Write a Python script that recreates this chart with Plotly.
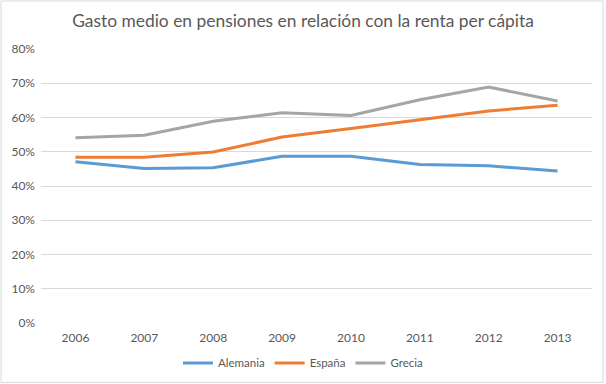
import plotly.graph_objects as go

years = ["2006", "2007", "2008", "2009", "2010", "2011", "2012", "2013"]
alemania = [47.1, 45.1, 45.3, 48.7, 48.7, 46.3, 45.9, 44.4]
espana = [48.4, 48.4, 49.9, 54.3, 56.8, 59.4, 61.9, 63.6]
grecia = [54.1, 54.8, 58.9, 61.4, 60.6, 65.2, 68.9, 64.8]
y_ticks = [0, 10, 20, 30, 40, 50, 60, 70, 80]
y_tick_labels = ["0%", "10%", "20%", "30%", "40%", "50%", "60%", "70%", "80%"]

series = [("Alemania", alemania, "#5B9BD5"),
          ("España", espana, "#ED7D31"),
          ("Grecia", grecia, "#A5A5A5")]

fig = go.Figure()
for name, vals, color in series:
    fig.add_trace(go.Scatter(x=years, y=vals, name=name, mode="lines",
                             line=dict(color=color, width=3)))

W, H = 606, 384
L, R, T, B = 40.5, 13.5, 48.6, 61
pw, ph = W - L - R, H - T - B

fig.update_layout(
    width=W, height=H,
    margin=dict(l=L, r=R, t=T, b=B, autoexpand=False),
    paper_bgcolor="white", plot_bgcolor="white",
    font=dict(family="Lato, Carlito, Calibri, sans-serif", color="#595959", size=12),
    title=dict(text="Gasto medio en pensiones en relación con la renta per cápita",
               x=0.5, xanchor="center", xref="container",
               y=1 - 21 / H, yanchor="middle", yref="container",
               font=dict(size=17.4, color="#595959", family="Lato, sans-serif")),
    xaxis=dict(type="category", range=[-0.5, 7.5], showgrid=False, zeroline=False,
               showline=False, ticks="", tickfont=dict(size=12), ticklabelstandoff=6),
    yaxis=dict(range=[0, 80], tickvals=y_ticks, ticktext=y_tick_labels, showgrid=True,
               gridcolor="#D9D9D9", gridwidth=1, zeroline=False, showline=False,
               ticks="", tickfont=dict(size=12), ticklabelstandoff=5, fixedrange=True),
    showlegend=True,
    legend=dict(orientation="h", x=0.5, xanchor="center", xref="container",
                y=(323 - 363) / ph, yanchor="middle",
                font=dict(size=11.5), itemwidth=30, tracegroupgap=0),
    shapes=[dict(type="rect", xref="paper", yref="paper",
                 x0=(0.5 - L) / pw, x1=(603.5 - L) / pw,
                 y0=-(382.5 - (H - B)) / ph, y1=1 + (T - 0.5) / ph,
                 line=dict(color="#D9D9D9", width=1), layer="below")],
)

fig.write_html("out.html", config={"displayModeBar": False},
               post_script="document.body.style.margin='0';")
